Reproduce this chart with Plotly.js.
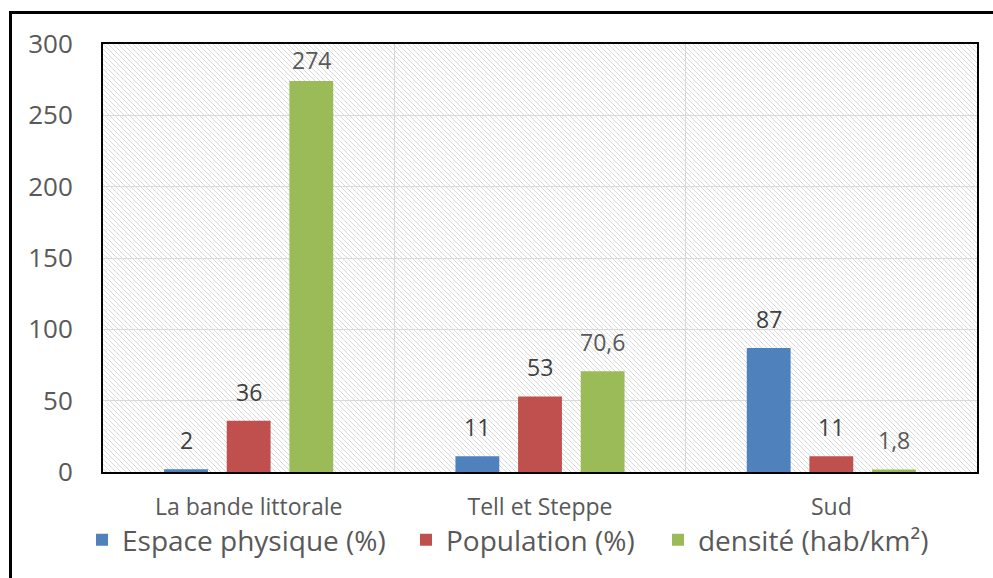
<!DOCTYPE html>
<html>
<head>
<meta charset="utf-8">
<script src="https://cdn.plot.ly/plotly-3.0.1.min.js"></script>
<style>
  html, body { margin: 0; padding: 0; background: #ffffff; }
  #wrap { position: relative; width: 993px; height: 578px; overflow: hidden; }
  #chart { position: absolute; left: 0; top: 0; width: 993px; height: 578px; }
  #frame { position: absolute; left: 9px; top: 11px; width: 1200px; height: 800px;
           border-top: 3px solid #000; border-left: 3px solid #000; pointer-events: none; }
</style>
</head>
<body>
<div id="wrap">
  <div id="chart"></div>
  <div id="frame"></div>
</div>
<script>
// ---- data ----
const categories = ["La bande littorale", "Tell et Steppe", "Sud"];
const espacePhysique = [2, 11, 87];
const population = [36, 53, 11];
const densite = [274, 70.6, 1.8];
const seriesNames = ["Espace physique (%)", "Population (%)", "densité (hab/km²)"];
const yTicks = [0, 50, 100, 150, 200, 250, 300];

const FONT = "'Open Sans', sans-serif";
const fmt = v => String(v).replace('.', ',');

const seriesValues = [espacePhysique, population, densite];
const seriesColors = ['#4F81BD', '#C0504D', '#9BBB59'];
const labelColors = ['#404040', '#404040', '#595959'];
const legendIds = ['legend', 'legend2', 'legend3'];

const traces = seriesValues.map((vals, i) => ({
  type: 'bar', name: seriesNames[i], x: categories, y: vals,
  marker: { color: seriesColors[i], line: { width: 0 } },
  legend: legendIds[i],
  hoverinfo: 'skip'
}));

// geometry helpers (layout only)
const M = { l: 103, r: 16, t: 44, b: 106 };
const plotW = 993 - M.l - M.r, plotH = 578 - M.t - M.b;
const Y_MAX = 300;
const BARGAP = 0.355;
const slot = (plotW / categories.length) * (1 - BARGAP) / seriesValues.length;

// data labels above bars (kept inside the plot area like the original)
const annotations = [];
seriesValues.forEach((vals, i) => {
  vals.forEach((v, j) => {
    const roomAbove = plotH * (1 - v / Y_MAX) - 34;
    annotations.push({
      x: categories[j], y: v, xref: 'x', yref: 'y',
      xshift: (i - 1) * slot, yshift: Math.max(0, Math.min(11, roomAbove)),
      yanchor: 'bottom', showarrow: false,
      text: fmt(v), font: { family: FONT, size: 23, color: labelColors[i] }
    });
  });
});

// hatched background for plot area
const svg = `<svg xmlns="http://www.w3.org/2000/svg" width="${plotW}" height="${plotH}">
<defs><pattern id="h" patternUnits="userSpaceOnUse" width="5" height="5">
<path d="M-1,-1 L6,6 M-1,4 L1,6 M4,-1 L6,1" stroke="#dadada" stroke-width="1"/>
</pattern></defs>
<rect width="${plotW}" height="${plotH}" fill="#ffffff"/>
<rect width="${plotW}" height="${plotH}" fill="url(#h)"/></svg>`;
const bgSrc = 'data:image/svg+xml;charset=utf-8,' + encodeURIComponent(svg);

const legendBase = {
  orientation: 'h', y: -0.159, yanchor: 'middle', xanchor: 'left',
  font: { family: FONT, size: 28, color: '#595959' },
  bgcolor: 'rgba(0,0,0,0)'
};

const layout = {
  width: 993, height: 578,
  margin: M,
  paper_bgcolor: 'rgba(0,0,0,0)',
  plot_bgcolor: 'rgba(0,0,0,0)',
  font: { family: FONT, color: '#595959' },
  barmode: 'group', bargap: BARGAP, bargroupgap: 0.3,
  showlegend: true,
  legend: Object.assign({}, legendBase, { x: -0.024 }),
  legend2: Object.assign({}, legendBase, { x: 0.3467 }),
  legend3: Object.assign({}, legendBase, { x: 0.635 }),
  annotations: annotations,
  xaxis: {
    type: 'category', tickson: 'boundaries', showgrid: true, gridcolor: '#d9d9d9', gridwidth: 1,
    ticks: '', ticklabelstandoff: 13,
    tickfont: { family: FONT, size: 23, color: '#595959' },
    showline: true, linecolor: '#000', linewidth: 2, mirror: true,
    fixedrange: true
  },
  yaxis: {
    range: [0, Y_MAX], tickvals: yTicks, ticktext: yTicks.map(String),
    showgrid: true, gridcolor: '#d9d9d9', gridwidth: 1, zeroline: false,
    ticks: '', ticklabelstandoff: 23,
    tickfont: { family: FONT, size: 26, color: '#595959' },
    showline: true, linecolor: '#000', linewidth: 2, mirror: true,
    fixedrange: true
  },
  images: [{
    source: bgSrc, xref: 'paper', yref: 'paper', x: 0, y: 1, sizex: 1, sizey: 1,
    xanchor: 'left', yanchor: 'top', sizing: 'stretch', layer: 'below'
  }]
};

Plotly.newPlot('chart', traces, layout, { displayModeBar: false, staticPlot: true });
</script>
</body>
</html>
